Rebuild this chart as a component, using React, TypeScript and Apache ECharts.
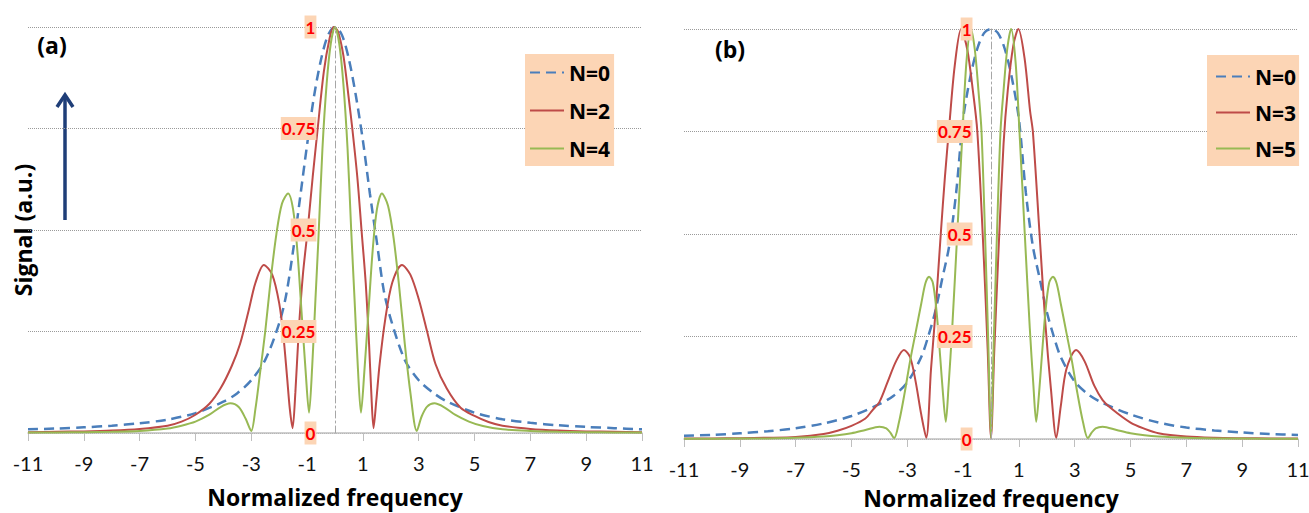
import React, { useEffect, useRef } from 'react';
import * as echarts from 'echarts';

type P = [number, number];

const xTicks = [-11, -9, -7, -5, -3, -1, 1, 3, 5, 7, 9, 11];
const leftNames = ['N=0', 'N=2', 'N=4'];
const rightNames = ['N=0', 'N=3', 'N=5'];

// Panel (a)
const leftN0: P[] = [
  [-11, 0.009], [-10, 0.011], [-9, 0.014], [-8, 0.018], [-7, 0.024], [-6, 0.033], [-5, 0.049], [-4, 0.077],
  [-3.5, 0.098], [-3, 0.13], [-2.5, 0.18], [-2, 0.27], [-1.75, 0.34], [-1.5, 0.45], [-1.25, 0.58], [-1, 0.71],
  [-0.75, 0.83], [-0.5, 0.92], [-0.25, 0.98], [0, 1], [0.25, 0.98], [0.5, 0.92], [0.75, 0.83], [1, 0.72],
  [1.25, 0.59], [1.5, 0.47], [1.75, 0.35], [2, 0.28], [2.5, 0.18], [3, 0.13], [3.5, 0.1], [4, 0.078],
  [5, 0.05], [6, 0.034], [7, 0.025], [8, 0.019], [9, 0.015], [10, 0.012], [11, 0.009],
];
const leftN2: P[] = [
  [-11, 0.002], [-10, 0.003], [-9, 0.004], [-8, 0.006], [-7, 0.01], [-6, 0.018], [-5.5, 0.028], [-5, 0.045],
  [-4.5, 0.072], [-4.1, 0.11], [-3.7, 0.165], [-3.4, 0.22], [-3.1, 0.3], [-2.85, 0.37], [-2.55, 0.414],
  [-2.25, 0.39], [-2.0, 0.32], [-1.85, 0.24], [-1.72, 0.14], [-1.62, 0.06], [-1.52, 0.012], [-1.42, 0.1],
  [-1.3, 0.25], [-1.15, 0.39], [-0.98, 0.5], [-0.8, 0.63], [-0.62, 0.75], [-0.4, 0.89], [-0.2, 0.97],
  [-0.05, 1], [0.1, 0.99], [0.3, 0.93], [0.5, 0.82], [0.62, 0.75], [0.8, 0.63], [0.95, 0.5], [1.1, 0.37],
  [1.22, 0.22], [1.3, 0.1], [1.38, 0.012], [1.48, 0.08], [1.6, 0.17], [1.8, 0.28], [2.05, 0.37], [2.4, 0.414],
  [2.7, 0.39], [3.0, 0.33], [3.3, 0.25], [3.6, 0.17], [4.0, 0.11], [4.5, 0.062], [5, 0.042], [5.5, 0.027],
  [6, 0.018], [7, 0.01], [8, 0.006], [9, 0.004], [10, 0.003], [11, 0.002],
];
const leftN4: P[] = [
  [-11, 0.001], [-10, 0.0015], [-9, 0.002], [-8, 0.003], [-7, 0.005], [-6, 0.011], [-5.5, 0.018], [-5, 0.028],
  [-4.5, 0.045], [-4.1, 0.064], [-3.75, 0.073], [-3.45, 0.064], [-3.2, 0.035], [-3.0, 0.005], [-2.85, 0.06],
  [-2.7, 0.14], [-2.5, 0.25], [-2.3, 0.38], [-2.1, 0.49], [-1.9, 0.565], [-1.68, 0.59], [-1.5, 0.55],
  [-1.35, 0.45], [-1.2, 0.3], [-1.05, 0.15], [-0.93, 0.05], [-0.82, 0.16], [-0.7, 0.33], [-0.6, 0.47],
  [-0.45, 0.7], [-0.3, 0.86], [-0.15, 0.96], [0, 1], [0.15, 0.96], [0.3, 0.86], [0.45, 0.7], [0.58, 0.5],
  [0.7, 0.33], [0.82, 0.16], [0.93, 0.05], [1.05, 0.15], [1.2, 0.3], [1.35, 0.45], [1.5, 0.55], [1.68, 0.59],
  [1.9, 0.56], [2.1, 0.48], [2.3, 0.36], [2.5, 0.22], [2.7, 0.1], [2.93, 0.005], [3.1, 0.04], [3.3, 0.065],
  [3.56, 0.073], [3.9, 0.064], [4.3, 0.045], [4.8, 0.028], [5.3, 0.017], [6, 0.009], [7, 0.005], [8, 0.003],
  [9, 0.002], [10, 0.0015], [11, 0.001],
];

// Panel (b)
const rightN0: P[] = [
  [-11, 0.008], [-10, 0.01], [-9, 0.014], [-8, 0.019], [-7, 0.026], [-6, 0.038], [-5, 0.056], [-4, 0.085],
  [-3.5, 0.105], [-3, 0.138], [-2.5, 0.2], [-2.25, 0.25], [-2, 0.31], [-1.75, 0.39], [-1.5, 0.47],
  [-1.25, 0.6], [-1, 0.78], [-0.75, 0.88], [-0.5, 0.95], [-0.25, 0.99], [0, 1], [0.25, 0.99], [0.5, 0.95],
  [0.75, 0.88], [1, 0.78], [1.25, 0.6], [1.5, 0.47], [1.75, 0.39], [2, 0.31], [2.25, 0.25], [2.5, 0.2],
  [3, 0.14], [3.5, 0.108], [4, 0.088], [5, 0.06], [6, 0.04], [7, 0.028], [8, 0.021], [9, 0.016], [10, 0.012],
  [11, 0.01],
];
const rightN3: P[] = [
  [-11, 0.001], [-10, 0.0015], [-9, 0.002], [-8, 0.003], [-7, 0.005], [-6, 0.012], [-5.5, 0.02], [-5, 0.032],
  [-4.5, 0.05], [-4.25, 0.07], [-4, 0.09], [-3.7, 0.14], [-3.4, 0.19], [-3.12, 0.217], [-2.9, 0.2],
  [-2.7, 0.14], [-2.5, 0.06], [-2.32, 0.003], [-2.15, 0.17], [-2.0, 0.3], [-1.8, 0.5], [-1.65, 0.64],
  [-1.5, 0.76], [-1.3, 0.91], [-1.07, 1], [-0.85, 0.95], [-0.65, 0.85], [-0.49, 0.75], [-0.27, 0.46],
  [-0.12, 0.22], [0, 0.003], [0.12, 0.22], [0.27, 0.46], [0.45, 0.72], [0.6, 0.85], [0.8, 0.96], [0.98, 1],
  [1.2, 0.93], [1.4, 0.8], [1.5, 0.75], [1.74, 0.5], [1.95, 0.28], [2.15, 0.12], [2.34, 0.003], [2.5, 0.08],
  [2.7, 0.17], [3.05, 0.217], [3.35, 0.19], [3.7, 0.13], [4.0, 0.095], [4.3, 0.075], [5, 0.04], [5.5, 0.025],
  [6, 0.014], [7, 0.006], [8, 0.003], [9, 0.002], [10, 0.0015], [11, 0.001],
];
const rightN5: P[] = [
  [-11, 0.0005], [-9, 0.001], [-8, 0.0015], [-7, 0.003], [-6, 0.006], [-5.5, 0.009], [-5, 0.014],
  [-4.5, 0.022], [-4.0, 0.03], [-3.75, 0.026], [-3.6, 0.015], [-3.47, 0.002], [-3.3, 0.04], [-3.1, 0.11],
  [-2.9, 0.19], [-2.7, 0.26], [-2.5, 0.33], [-2.35, 0.38], [-2.22, 0.396], [-2.08, 0.38], [-1.95, 0.31],
  [-1.82, 0.2], [-1.72, 0.11], [-1.62, 0.042], [-1.52, 0.13], [-1.39, 0.27], [-1.21, 0.5], [-1.02, 0.75],
  [-0.88, 0.92], [-0.72, 1], [-0.58, 0.95], [-0.45, 0.85], [-0.34, 0.75], [-0.2, 0.47], [-0.1, 0.24],
  [0, 0.002], [0.1, 0.24], [0.2, 0.47], [0.34, 0.75], [0.45, 0.85], [0.58, 0.95], [0.72, 1], [0.88, 0.92],
  [1.02, 0.75], [1.21, 0.5], [1.39, 0.27], [1.52, 0.13], [1.62, 0.042], [1.72, 0.11], [1.82, 0.2],
  [1.95, 0.31], [2.08, 0.38], [2.22, 0.396], [2.35, 0.38], [2.5, 0.33], [2.7, 0.26], [2.9, 0.19], [3.1, 0.11],
  [3.3, 0.04], [3.47, 0.002], [3.6, 0.015], [3.75, 0.026], [4.0, 0.03], [4.5, 0.022], [5, 0.014], [5.5, 0.009],
  [6, 0.006], [7, 0.003], [8, 0.0015], [9, 0.001], [11, 0.0005],
];

const BLUE = '#4a7ebb';
const RED = '#be4b48';
const GREEN = '#98b954';
const PEACH = '#fcd5b5';

export default function App() {
  const ref = useRef<HTMLDivElement>(null);
  useEffect(() => {
    if (!ref.current) return;
    const chart = echarts.init(ref.current, null, { renderer: 'svg' });

    const mkX = (gi: number, nameGap: number) => ({
      type: 'value', gridIndex: gi, min: -11, max: 11,
      name: 'Normalized frequency', nameLocation: 'middle', nameGap,
      nameTextStyle: { fontFamily: 'Open Sans', fontWeight: 'bold', fontSize: 23, color: '#000', lineHeight: 24 },
      axisLine: { onZero: false, lineStyle: { color: '#bfbfbf', width: 1.5 } },
      axisTick: { show: true, length: 8, customValues: xTicks, lineStyle: { color: '#bfbfbf' } },
      axisLabel: { customValues: xTicks, margin: 20, fontFamily: 'Lato', fontSize: 20, color: '#111' },
      splitLine: { show: false },
    });
    const mkYGrid = (gi: number) => ({
      type: 'value', gridIndex: gi, min: 0, max: 1, interval: 0.25,
      axisLine: { show: false, onZero: false }, axisTick: { show: false }, axisLabel: { show: false },
      splitLine: { show: true, lineStyle: { color: '#9a9a9a', type: 'dotted', width: 1 } },
    });
    const mkYLab = (gi: number, offset: number) => ({
      type: 'value', gridIndex: gi, position: 'left', offset, min: 0, max: 1, interval: 0.25, z: 5,
      axisLine: { show: true, onZero: false, lineStyle: { color: '#a6a6a6', type: [7, 3, 2, 3], width: 1 } },
      axisTick: { show: false }, splitLine: { show: false },
      axisLabel: {
        margin: 19, color: '#ff0000', fontWeight: 'bold', fontFamily: 'Lato', fontSize: 17, lineHeight: 17,
        backgroundColor: PEACH, padding: [3, 1],
      },
    });
    const mkS = (name: string, data: P[], xi: number, yi: number, color: string, dashed: boolean) => ({
      type: 'line', name, data, xAxisIndex: xi, yAxisIndex: yi, symbol: 'none', showSymbol: false,
      smooth: 0.3, lineStyle: { color, width: dashed ? 2.5 : 2, type: dashed ? [10, 6] : 'solid' },
      itemStyle: { color },
    });
    const mkLegend = (data: string[], left: number, top: number, padding: number[], itemGap: number) => ({
      data, orient: 'vertical', left, top, backgroundColor: PEACH, padding, itemGap,
      itemWidth: 34, itemHeight: 12,
      itemStyle: { opacity: 0, borderWidth: 0 },
      textStyle: { fontFamily: 'Open Sans', fontWeight: 'bold', fontSize: 21, color: '#000', lineHeight: 21 },
    });

    chart.setOption({
      animation: false,
      backgroundColor: '#ffffff',
      grid: [
        { left: 28, top: 27, width: 614, height: 406, containLabel: false, outerBoundsMode: 'none' },
        { left: 684, top: 29, width: 614, height: 410, containLabel: false, outerBoundsMode: 'none' },
      ],
      xAxis: [mkX(0, 52), mkX(1, 47)],
      yAxis: [mkYGrid(0), mkYLab(0, -307.4), mkYGrid(1), mkYLab(1, -307.5)],
      legend: [
        mkLegend(leftNames, 525, 54, [8, 4, 7, 4], 17),
        mkLegend(rightNames, 1207, 55, [11, 3, 7, 8], 15),
      ],
      series: [
        mkS(leftNames[0], leftN0, 0, 0, BLUE, true),
        mkS(leftNames[1], leftN2, 0, 0, RED, false),
        mkS(leftNames[2], leftN4, 0, 0, GREEN, false),
        mkS(rightNames[0], rightN0, 1, 2, BLUE, true),
        mkS(rightNames[1], rightN3, 1, 2, RED, false),
        mkS(rightNames[2], rightN5, 1, 2, GREEN, false),
      ],
      graphic: [
        { type: 'text', x: 52, y: 45, style: { text: '(a)', font: 'bold 23px "Open Sans"', fill: '#000', align: 'center', verticalAlign: 'middle' } },
        { type: 'text', x: 730, y: 49, style: { text: '(b)', font: 'bold 23px "Open Sans"', fill: '#000', align: 'center', verticalAlign: 'middle' } },
        { type: 'text', x: 23, y: 230, rotation: Math.PI / 2, style: { text: 'Signal (a.u.)', font: 'bold 23px "Open Sans"', fill: '#000', align: 'center', verticalAlign: 'middle' } },
        { type: 'line', shape: { x1: 65, y1: 220, x2: 65, y2: 96 }, style: { stroke: '#1f3e78', lineWidth: 3.5 } },
        { type: 'polyline', shape: { points: [[57, 107], [65, 95], [73, 107]] }, style: { stroke: '#1f3e78', lineWidth: 3.5, fill: 'none' } },
      ],
    } as any);
    return () => chart.dispose();
  }, []);
  return <div ref={ref} style={{ position: 'absolute', left: 0, top: 0, width: 1309, height: 513, background: '#fff' }} />;
}
